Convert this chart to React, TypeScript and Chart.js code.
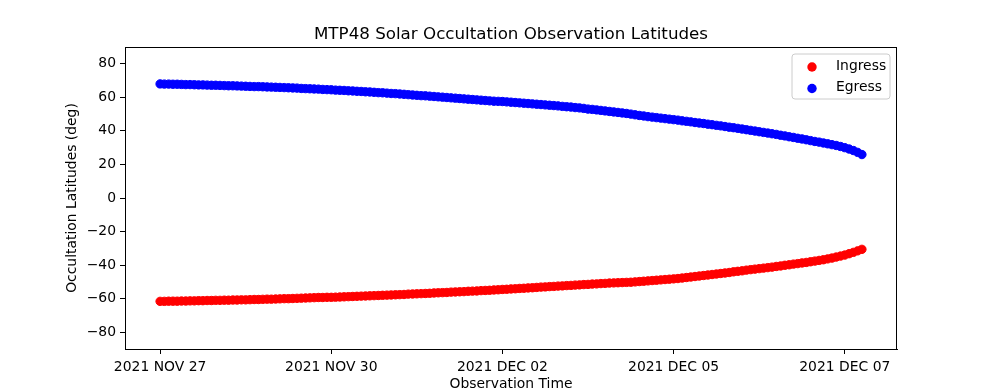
import { useEffect, useRef } from 'react';
import { Chart, registerables } from 'chart.js';

Chart.register(...registerables);

const FONT = "'DejaVu Sans', sans-serif";

const titleText = 'MTP48 Solar Occultation Observation Latitudes';
const xTitle = 'Observation Time';
const yTitle = 'Occultation Latitudes (deg)';

const tickPositions = [0, 40, 80, 120, 160];
const tickLabels = ['2021 NOV 27', '2021 NOV 30', '2021 DEC 02', '2021 DEC 05', '2021 DEC 07'];
const yTicks = [-80, -60, -40, -20, 0, 20, 40, 60, 80];

const ingress = [
  -61.6, -61.6, -61.5, -61.5, -61.5, -61.4, -61.4, -61.3, -61.3, -61.2,
  -61.2, -61.1, -61.1, -61.0, -61.0, -60.9, -60.9, -60.8, -60.8, -60.7,
  -60.7, -60.6, -60.5, -60.5, -60.4, -60.3, -60.3, -60.2, -60.1, -60.0,
  -60.0, -59.9, -59.8, -59.7, -59.6, -59.5, -59.4, -59.3, -59.3, -59.2,
  -59.2, -59.1, -59.0, -58.9, -58.8, -58.7, -58.6, -58.5, -58.4, -58.3,
  -58.2, -58.1, -58.0, -57.9, -57.8, -57.7, -57.6, -57.5, -57.3, -57.2,
  -57.1, -57.0, -56.9, -56.8, -56.6, -56.5, -56.4, -56.3, -56.1, -56.0,
  -55.9, -55.8, -55.6, -55.5, -55.4, -55.2, -55.1, -55.0, -54.8, -54.7,
  -54.5, -54.4, -54.2, -54.1, -53.9, -53.8, -53.6, -53.5, -53.3, -53.1,
  -53.0, -52.8, -52.7, -52.5, -52.4, -52.2, -52.1, -51.9, -51.8, -51.6,
  -51.5, -51.3, -51.2, -51.0, -50.9, -50.7, -50.6, -50.5, -50.4, -50.3,
  -50.2, -50.0, -49.8, -49.6, -49.4, -49.2, -49.0, -48.8, -48.6, -48.4,
  -48.2, -48.0, -47.7, -47.4, -47.1, -46.8, -46.5, -46.2, -45.9, -45.6,
  -45.3, -45.0, -44.7, -44.4, -44.0, -43.7, -43.4, -43.0, -42.7, -42.4,
  -42.1, -41.8, -41.5, -41.2, -40.8, -40.5, -40.1, -39.8, -39.4, -39.1,
  -38.7, -38.4, -38.0, -37.6, -37.2, -36.8, -36.3, -35.8, -35.2, -34.6,
  -34.0, -33.2, -32.4, -31.5, -30.6,
];

const egress = [
  68.0, 67.9, 67.9, 67.8, 67.8, 67.7, 67.6, 67.6, 67.5, 67.4,
  67.4, 67.3, 67.2, 67.2, 67.1, 67.0, 66.9, 66.9, 66.8, 66.7,
  66.6, 66.5, 66.4, 66.4, 66.3, 66.2, 66.1, 66.0, 65.9, 65.8,
  65.7, 65.6, 65.5, 65.3, 65.2, 65.1, 65.0, 64.9, 64.7, 64.6,
  64.5, 64.3, 64.2, 64.1, 63.9, 63.8, 63.6, 63.5, 63.3, 63.2,
  63.0, 62.8, 62.7, 62.5, 62.3, 62.2, 62.0, 61.8, 61.6, 61.4,
  61.2, 61.0, 60.9, 60.7, 60.5, 60.3, 60.1, 59.9, 59.7, 59.5,
  59.3, 59.1, 58.9, 58.7, 58.5, 58.3, 58.1, 57.9, 57.7, 57.6,
  57.5, 57.3, 57.1, 56.9, 56.7, 56.5, 56.3, 56.1, 55.9, 55.7,
  55.5, 55.3, 55.1, 54.9, 54.6, 54.4, 54.2, 53.9, 53.7, 53.4,
  53.0, 52.8, 52.5, 52.2, 51.9, 51.6, 51.3, 51.0, 50.7, 50.4,
  50.0, 49.6, 49.2, 48.9, 48.5, 48.2, 47.9, 47.6, 47.3, 47.0,
  46.7, 46.4, 46.0, 45.7, 45.4, 45.0, 44.7, 44.4, 44.0, 43.7,
  43.3, 43.0, 42.6, 42.2, 41.9, 41.5, 41.1, 40.7, 40.3, 39.9,
  39.5, 39.1, 38.7, 38.3, 37.9, 37.4, 37.0, 36.5, 36.1, 35.6,
  35.2, 34.7, 34.2, 33.7, 33.3, 32.8, 32.3, 31.8, 31.3, 30.7,
  30.0, 29.2, 28.3, 27.2, 25.9,
];

const RED = '#ff0000';
const BLUE = '#0000ff';
const PR = 4.2;

const decorPlugin = {
  id: 'decor',
  afterDraw(chart: any) {
    const ctx = chart.ctx as CanvasRenderingContext2D;
    const a = chart.chartArea;
    ctx.save();
    // frame
    ctx.strokeStyle = '#000';
    ctx.lineWidth = 1;
    ctx.strokeRect(Math.round(a.left) + 0.5, Math.round(a.top) + 0.5, Math.round(a.right - a.left) - 1, Math.round(a.bottom - a.top));
    // title
    const cx = (a.left + a.right) / 2;
    ctx.fillStyle = '#000';
    ctx.font = `16.7px ${FONT}`;
    ctx.textAlign = 'center';
    ctx.textBaseline = 'alphabetic';
    ctx.fillText(titleText, cx, 39);
    // axis titles
    ctx.font = `13.9px ${FONT}`;
    ctx.textBaseline = 'middle';
    ctx.fillText(xTitle, cx, 384);
    ctx.save();
    ctx.translate(72, (a.top + a.bottom) / 2);
    ctx.rotate(-Math.PI / 2);
    ctx.fillText(yTitle, 0, 0);
    ctx.restore();
    // legend
    const lx = 792, ly = 54, lw = 98, lh = 45, r = 3;
    ctx.beginPath();
    ctx.moveTo(lx + r, ly);
    ctx.arcTo(lx + lw, ly, lx + lw, ly + lh, r);
    ctx.arcTo(lx + lw, ly + lh, lx, ly + lh, r);
    ctx.arcTo(lx, ly + lh, lx, ly, r);
    ctx.arcTo(lx, ly, lx + lw, ly, r);
    ctx.closePath();
    ctx.fillStyle = 'rgba(255,255,255,0.8)';
    ctx.fill();
    ctx.strokeStyle = '#cccccc';
    ctx.stroke();
    const items = chart.data.datasets.map((d: any) => ({ label: d.label, color: d.backgroundColor }));
    items.forEach((it: any, i: number) => {
      const y = 66.5 + i * 21;
      ctx.beginPath();
      ctx.arc(812, y + 0.5 + i * 0.5, PR + 0.5, 0, Math.PI * 2);
      ctx.fillStyle = it.color;
      ctx.fill();
      ctx.fillStyle = '#000';
      ctx.textAlign = 'left';
      ctx.textBaseline = 'middle';
      ctx.font = `13.9px ${FONT}`;
      ctx.fillText(it.label, 836, y);
    });
    ctx.restore();
  },
};

export default function App() {
  const ref = useRef<HTMLCanvasElement>(null);
  useEffect(() => {
    document.body.style.margin = '0';
    const canvas = ref.current!;
    const span = ingress.length - 1;
    const tickFont = { family: FONT, size: 13.9 };
    const chart = new Chart(canvas, {
      type: 'scatter',
      data: {
        datasets: [
          {
            label: 'Ingress',
            data: ingress.map((v, i) => ({ x: i, y: v })),
            backgroundColor: RED,
            borderColor: RED,
            borderWidth: 1,
            pointRadius: PR,
            pointHoverRadius: PR,
          },
          {
            label: 'Egress',
            data: egress.map((v, i) => ({ x: i, y: v })),
            backgroundColor: BLUE,
            borderColor: BLUE,
            borderWidth: 1,
            pointRadius: PR,
            pointHoverRadius: PR,
          },
        ],
      },
      options: {
        responsive: false,
        animation: false,
        devicePixelRatio: 1,
        events: [],
        layout: { padding: { top: 47, right: 101, left: 0, bottom: 0 } },
        plugins: {
          legend: { display: false },
          title: { display: false },
          tooltip: { enabled: false },
        },
        scales: {
          x: {
            type: 'linear',
            min: -0.05 * span,
            max: span * 1.05,
            afterFit: (s: any) => {
              s.height = 43;
            },
            afterBuildTicks: (s: any) => {
              s.ticks = tickPositions.map((v) => ({ value: v }));
            },
            ticks: {
              callback: (v: any) => tickLabels[tickPositions.indexOf(Number(v))] ?? '',
              font: tickFont,
              color: '#000',
              maxRotation: 0,
              autoSkip: false,
              padding: 5,
            },
            grid: { drawOnChartArea: false, drawTicks: true, tickLength: 5, tickColor: '#000', tickWidth: 1 },
            border: { display: true, color: '#000', width: 1 },
          },
          y: {
            type: 'linear',
            min: -90,
            max: 90,
            afterFit: (s: any) => {
              s.width = 125;
            },
            afterBuildTicks: (s: any) => {
              s.ticks = yTicks.map((v) => ({ value: v }));
            },
            ticks: {
              callback: (v: any) => (Number(v) < 0 ? '\u2212' + Math.abs(Number(v)) : String(v)),
              font: tickFont,
              color: '#000',
              autoSkip: false,
              padding: 4,
            },
            grid: { drawOnChartArea: false, drawTicks: true, tickLength: 5, tickColor: '#000', tickWidth: 1 },
            border: { display: true, color: '#000', width: 1 },
          },
        },
      } as any,
      plugins: [decorPlugin],
    });
    return () => chart.destroy();
  }, []);
  return <canvas ref={ref} width={998} height={392} style={{ display: 'block' }} />;
}
